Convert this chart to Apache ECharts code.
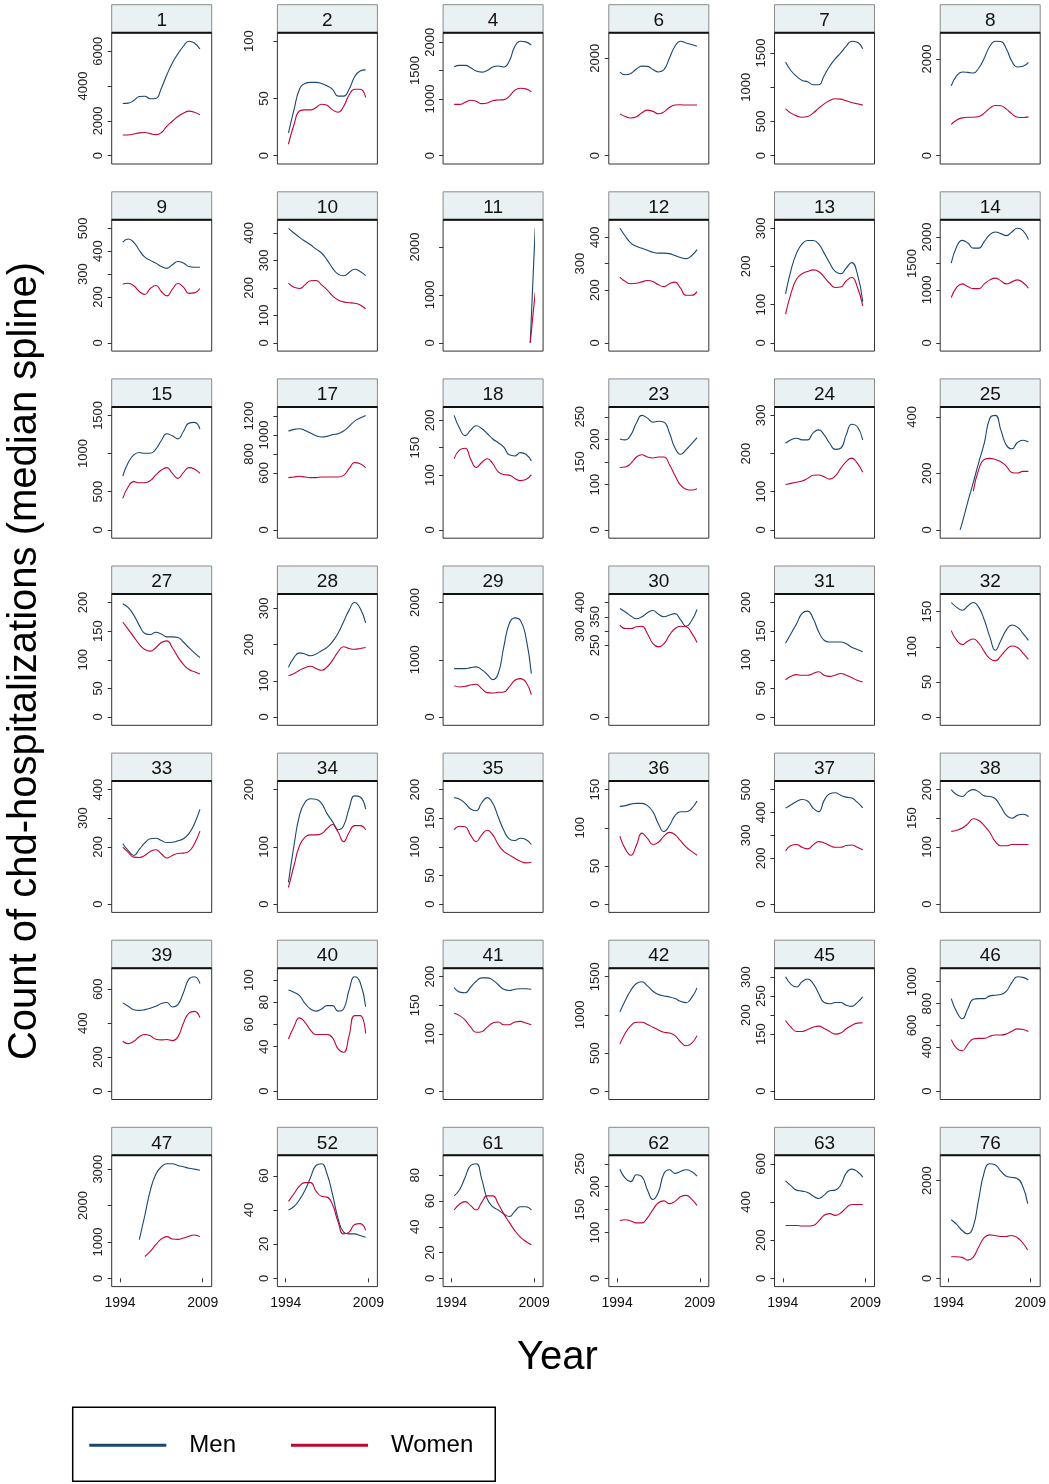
<!DOCTYPE html>
<html>
<head>
<meta charset="utf-8">
<script src="https://cdn.jsdelivr.net/npm/echarts@6/dist/echarts.min.js"></script>
<style>
  html, body { margin: 0; padding: 0; background: #fff; }
  #chart { width: 1049px; height: 1484px; }
</style>
</head>
<body>
<div id="chart"></div>
<script>
// x positions of the median-spline knots (same for every panel)
const YEARS = [1994.5, 1995.5, 1996.5, 1997.5, 1998.5, 1999.5, 2000.5, 2001.5, 2002.5, 2003.5, 2004.5, 2005.5, 2006.5, 2007.5, 2008.5];
const YEARS_11 = [2008.3, 2009.2];
const YEARS_25M = [1996.1, 1996.5, 1997.5, 1998.5, 1999.5, 2000.5, 2001.5, 2002.5, 2003.5, 2004.5, 2005.5, 2006.5, 2007.5, 2008.5];

const PANEL_IDS = ['1', '2', '4', '6', '7', '8', '9', '10', '11', '12', '13', '14', '15', '17', '18', '23', '24', '25',
  '27', '28', '29', '30', '31', '32', '33', '34', '35', '36', '37', '38', '39', '40', '41', '42', '45', '46',
  '47', '52', '61', '62', '63', '76'];

const men_1 = [3000, 3020, 3170, 3400, 3420, 3270, 3290, 3880, 4650, 5330, 5850, 6290, 6580, 6480, 6130];
const women_1 = [1190, 1190, 1250, 1310, 1330, 1270, 1210, 1330, 1700, 1980, 2250, 2440, 2560, 2500, 2350];
const men_2 = [20, 40, 58, 63, 64, 64, 63, 61, 58, 52, 52, 58, 69, 74, 75];
const women_2 = [10, 27, 39, 40, 40, 42, 45, 44, 40, 38, 43, 53, 58, 58, 51];
const men_4 = [1568, 1592, 1592, 1550, 1491, 1473, 1503, 1562, 1580, 1562, 1669, 1923, 2018, 2006, 1947];
const women_4 = [905, 905, 941, 976, 959, 917, 929, 970, 982, 988, 1047, 1154, 1189, 1178, 1124];
const men_6 = [1718, 1663, 1690, 1780, 1840, 1835, 1770, 1720, 1766, 2007, 2247, 2351, 2316, 2282, 2247];
const women_6 = [859, 804, 775, 800, 880, 935, 910, 860, 900, 990, 1040, 1045, 1040, 1040, 1040];
const men_7 = [1363, 1240, 1158, 1099, 1080, 1036, 1036, 1168, 1305, 1412, 1500, 1598, 1671, 1656, 1559];
const women_7 = [684, 621, 581, 562, 572, 621, 694, 757, 806, 831, 826, 801, 777, 757, 738];
const men_8 = [1446, 1654, 1730, 1723, 1709, 1813, 2021, 2263, 2367, 2360, 2207, 1951, 1834, 1848, 1931];
const women_8 = [650, 740, 782, 796, 796, 810, 879, 983, 1038, 1031, 962, 865, 796, 789, 803];

const men_9 = [440, 453, 439, 404, 374, 360, 348, 333, 325, 341, 355, 348, 333, 330, 330];
const women_9 = [257, 260, 249, 224, 211, 237, 250, 224, 205, 234, 259, 243, 216, 218, 237];
const men_10 = [417, 400, 384, 370, 357, 341, 327, 302, 272, 250, 244, 256, 268, 260, 245];
const women_10 = [217, 202, 198, 211, 226, 227, 211, 193, 171, 156, 149, 146, 144, 138, 124];
const men_11 = [0, 2390];
const women_11 = [0, 1050];
const men_12 = [434, 404, 378, 366, 358, 351, 343, 340, 340, 338, 331, 323, 319, 330, 353];
const women_12 = [249, 232, 224, 226, 231, 236, 232, 220, 213, 224, 230, 207, 180, 180, 194];
const men_13 = [128, 191, 235, 259, 268, 268, 259, 235, 209, 187, 181, 196, 210, 182, 108];
const women_13 = [75, 130, 167, 181, 187, 191, 187, 172, 156, 145, 146, 162, 171, 147, 97];
const men_14 = [1507, 1823, 1937, 1886, 1791, 1791, 1918, 2045, 2095, 2064, 2026, 2095, 2165, 2121, 1950];
const women_14 = [855, 1051, 1114, 1063, 1025, 1025, 1114, 1190, 1222, 1171, 1114, 1152, 1190, 1139, 1032];

const men_15 = [706, 882, 982, 1013, 1004, 1004, 1057, 1171, 1259, 1232, 1193, 1289, 1399, 1408, 1320];
const women_15 = [412, 566, 632, 618, 618, 645, 720, 785, 816, 741, 675, 750, 816, 798, 741];
const men_17 = [1039, 1060, 1067, 1049, 1021, 993, 979, 986, 1004, 1014, 1042, 1091, 1147, 1179, 1207];
const women_17 = [551, 558, 565, 558, 551, 551, 558, 558, 558, 558, 575, 646, 709, 698, 656];
const men_18 = [209, 185, 172, 182, 190, 185, 176, 166, 159, 151, 137, 135, 141, 138, 126];
const women_18 = [130, 146, 149, 129, 114, 123, 130, 121, 106, 101, 100, 94, 90, 92, 101];
const men_23 = [201, 199, 210, 236, 253, 247, 238, 240, 238, 214, 181, 167, 177, 190, 204];
const women_23 = [138, 139, 147, 161, 166, 161, 159, 161, 161, 144, 120, 99, 90, 88, 91];
const men_24 = [227, 236, 240, 236, 236, 254, 262, 249, 227, 211, 214, 249, 277, 271, 236];
const women_24 = [119, 122, 125, 128, 135, 143, 144, 139, 133, 141, 161, 179, 188, 175, 151];
const men_25 = [0, 26, 99, 168, 240, 308, 395, 405, 353, 299, 287, 309, 317, 311];
const women_25 = [null, null, null, null, 137, 215, 249, 253, 249, 241, 225, 203, 201, 207, 207];

const men_27 = [198, 191, 178, 160, 146, 144, 148, 145, 140, 140, 139, 131, 121, 112, 104];
const women_27 = [166, 153, 140, 127, 118, 115, 121, 130, 133, 121, 105, 92, 83, 79, 75];
const men_28 = [137, 164, 177, 174, 169, 174, 183, 192, 208, 231, 263, 295, 316, 300, 260];
const women_28 = [114, 120, 129, 136, 140, 134, 129, 138, 157, 180, 194, 189, 187, 189, 192];
const men_29 = [845, 845, 845, 863, 875, 828, 746, 653, 760, 1224, 1633, 1732, 1690, 1399, 758];
const women_29 = [548, 525, 536, 560, 571, 496, 426, 420, 431, 437, 525, 641, 671, 612, 391];
const men_30 = [379, 367, 353, 343, 350, 364, 372, 359, 350, 356, 361, 340, 317, 336, 376];
const women_30 = [321, 309, 309, 315, 317, 291, 256, 245, 256, 286, 309, 317, 315, 294, 260];
const men_31 = [129, 146, 163, 181, 185, 172, 149, 134, 131, 131, 131, 128, 122, 118, 114];
const women_31 = [65, 71, 74, 73, 73, 76, 79, 73, 71, 73, 76, 73, 69, 64, 61];
const men_32 = [163, 156, 152, 158, 163, 156, 138, 114, 95, 109, 124, 131, 128, 119, 109];
const women_32 = [123, 109, 103, 108, 111, 105, 93, 83, 80, 87, 96, 101, 99, 91, 82];

const men_33 = [211, 187, 170, 191, 214, 228, 230, 222, 215, 216, 221, 228, 246, 281, 331];
const women_33 = [199, 181, 164, 163, 170, 184, 190, 176, 161, 170, 177, 178, 184, 211, 255];
const men_34 = [38, 102, 155, 178, 184, 183, 176, 158, 144, 130, 137, 167, 189, 187, 166];
const women_34 = [29, 67, 102, 117, 121, 121, 123, 132, 139, 126, 109, 125, 137, 137, 130];
const men_35 = [186, 183, 176, 166, 163, 177, 186, 176, 152, 129, 114, 111, 115, 113, 104];
const women_35 = [130, 136, 135, 120, 109, 121, 129, 121, 104, 92, 86, 80, 75, 72, 73];
const men_36 = [128, 129, 131, 132, 132, 129, 121, 105, 95, 103, 116, 121, 121, 125, 135];
const women_36 = [89, 72, 64, 77, 93, 86, 78, 81, 89, 94, 91, 83, 75, 69, 64];
const men_37 = [419, 434, 448, 457, 450, 419, 404, 453, 482, 486, 475, 467, 463, 445, 420];
const women_37 = [232, 256, 260, 248, 241, 258, 273, 267, 256, 248, 248, 256, 258, 248, 237];
const men_38 = [200, 191, 188, 196, 200, 196, 189, 188, 184, 170, 155, 150, 155, 157, 153];
const women_38 = [127, 129, 133, 140, 149, 146, 137, 125, 109, 102, 102, 104, 104, 104, 104];

const men_39 = [520, 500, 480, 476, 480, 488, 500, 516, 522, 496, 510, 580, 660, 674, 634];
const women_39 = [294, 280, 294, 320, 334, 326, 306, 302, 304, 298, 320, 400, 460, 470, 434];
const men_40 = [91, 89, 86, 79, 74, 72, 74, 77, 77, 72, 74, 91, 103, 98, 76];
const women_40 = [47, 58, 66, 62, 55, 51, 51, 51, 48, 38, 35, 50, 68, 68, 52];
const men_41 = [181, 173, 172, 182, 192, 198, 198, 194, 186, 178, 176, 178, 179, 179, 178];
const women_41 = [136, 132, 124, 112, 103, 104, 112, 119, 121, 116, 116, 121, 122, 119, 116];
const men_42 = [1036, 1191, 1323, 1411, 1433, 1380, 1310, 1266, 1248, 1235, 1213, 1178, 1160, 1222, 1354];
const women_42 = [617, 763, 860, 904, 904, 873, 838, 803, 772, 763, 728, 648, 595, 626, 728];
const men_45 = [301, 281, 274, 288, 295, 283, 257, 233, 230, 233, 233, 226, 223, 233, 248];
const women_45 = [186, 168, 157, 157, 162, 168, 171, 165, 157, 150, 153, 164, 173, 179, 180];
const men_46 = [846, 723, 662, 754, 840, 846, 846, 871, 877, 883, 914, 994, 1046, 1040, 1015];
const women_46 = [471, 391, 369, 431, 477, 483, 483, 502, 514, 514, 523, 548, 569, 563, 545];

const men_47 = [null, null, null, 1061, 1726, 2418, 2861, 3064, 3147, 3147, 3101, 3064, 3027, 3000, 2972];
const women_47 = [null, null, null, null, 600, 738, 923, 1080, 1145, 1080, 1071, 1108, 1154, 1191, 1145];
const men_52 = [40, 42, 46, 51.5, 59, 66, 67, 61, 49, 35, 27, 26, 26, 25, 24];
const women_52 = [45, 49.5, 54, 56, 56, 51, 48, 47.5, 43, 33, 26, 27, 31.5, 32, 28];
const men_61 = [64, 69, 78.5, 87.6, 88.9, 77, 61.6, 55.6, 53, 50, 48, 52, 55.6, 55.6, 53];
const women_61 = [53, 57.7, 59.5, 56.4, 53, 59, 64, 64, 57.7, 50, 43.4, 37, 32, 28.6, 26];
const men_62 = [238, 218, 211, 226, 222, 193, 172, 188, 229, 237, 229, 233, 237, 233, 223];
const women_62 = [126, 128, 125, 121, 121, 132, 150, 165, 169, 163, 168, 178, 181, 173, 159];
const men_63 = [510, 484, 462, 457, 450, 431, 418, 436, 459, 462, 489, 551, 572, 560, 530];
const women_63 = [277, 277, 277, 274, 274, 277, 300, 330, 339, 330, 342, 369, 387, 387, 387];
const men_76 = [1200, 1104, 979, 910, 1048, 1600, 2152, 2345, 2324, 2207, 2097, 2069, 2048, 1910, 1531];
const women_76 = [441, 441, 428, 372, 428, 634, 828, 890, 876, 855, 855, 876, 841, 738, 579];

// y tick labels of every panel, and the ones Stata pushed outward
const Y_TICKS = [
  [0, 2000, 4000, 6000], [0, 50, 100], [0, 1000, 1500, 2000], [0, 2000], [0, 500, 1000, 1500], [0, 2000],
  [0, 200, 300, 400, 500], [0, 100, 200, 300, 400], [0, 1000, 2000], [0, 200, 300, 400], [0, 100, 200, 300], [0, 1000, 1500, 2000],
  [0, 500, 1000, 1500], [0, 600, 800, 1000, 1200], [0, 100, 150, 200], [0, 100, 150, 200, 250], [0, 100, 200, 300], [0, 200, 400],
  [0, 50, 100, 150, 200], [0, 100, 200, 300], [0, 1000, 2000], [0, 250, 300, 350, 400], [0, 50, 100, 150, 200], [0, 50, 100, 150],
  [0, 200, 300, 400], [0, 100, 200], [0, 50, 100, 150, 200], [0, 50, 100, 150], [0, 200, 300, 400, 500], [0, 100, 150, 200],
  [0, 200, 400, 600], [0, 40, 60, 80, 100], [0, 100, 150, 200], [0, 500, 1000, 1500], [0, 150, 200, 250, 300], [0, 400, 600, 800, 1000],
  [0, 1000, 2000, 3000], [0, 20, 40, 60], [0, 20, 40, 60, 80], [0, 100, 150, 200, 250], [0, 200, 400, 600], [0, 2000]
];
const Y_OUTER = [
  [4000], [100], [1500], [], [1000], [],
  [300, 500], [200, 400], [2000], [300], [200], [1500],
  [1000], [800, 1200], [150], [150, 250], [200], [400],
  [100, 200], [200], [1000, 2000], [300, 400], [100, 200], [100],
  [300], [200], [100, 200], [100], [300, 500], [150],
  [400], [60, 100], [150], [1000], [200, 300], [600, 1000],
  [2000], [40], [40, 80], [150, 250], [400], []
];
const X_TICKS = [1994, 2009];

const MEN = [men_1, men_2, men_4, men_6, men_7, men_8, men_9, men_10, men_11, men_12, men_13, men_14,
  men_15, men_17, men_18, men_23, men_24, men_25, men_27, men_28, men_29, men_30, men_31, men_32,
  men_33, men_34, men_35, men_36, men_37, men_38, men_39, men_40, men_41, men_42, men_45, men_46,
  men_47, men_52, men_61, men_62, men_63, men_76];
const WOMEN = [women_1, women_2, women_4, women_6, women_7, women_8, women_9, women_10, women_11, women_12, women_13, women_14,
  women_15, women_17, women_18, women_23, women_24, women_25, women_27, women_28, women_29, women_30, women_31, women_32,
  women_33, women_34, women_35, women_36, women_37, women_38, women_39, women_40, women_41, women_42, women_45, women_46,
  women_47, women_52, women_61, women_62, women_63, women_76];

const FONT = '"Liberation Sans", Arial, Helvetica, sans-serif';
const MEN_COLOR = '#1a476f';
const WOMEN_COLOR = '#c10534';

// panel layout (px)
const COL_X0 = 111.7, COL_STEP = 165.7;
const ROW_Y0 = 4.7, ROW_STEP = 187.1;
const FRAME_W = 100, HEAD_H = 28, PLOT_H = 131.3;
const PAD_L = 8.3, PAD_R = 9, PAD_T = 8.5, PAD_B = 8.3;

const plain = v => String(v);

const xsFor = (id, which) => {
  if (id === '11') return YEARS_11;
  if (id === '25' && which === 'men') return YEARS_25M;
  return YEARS;
};
const pairs = (xs, vals) => xs.map((x, k) => [x, vals[k]]).filter(d => d[1] != null);

const grid = [], xAxis = [], yAxis = [], series = [], graphic = [];

PANEL_IDS.forEach((id, i) => {
  const c = i % 6, r = Math.floor(i / 6);
  const fx = COL_X0 + c * COL_STEP;
  const hy = ROW_Y0 + r * ROW_STEP;
  const py = hy + HEAD_H;
  const bottomRow = r === 6;

  grid.push({
    left: fx + PAD_L, top: py + PAD_T,
    width: FRAME_W - PAD_L - PAD_R, height: PLOT_H - PAD_T - PAD_B
  });

  xAxis.push({
    type: 'value', gridIndex: i, min: 1994, max: 2009, offset: PAD_B,
    show: bottomRow,
    axisLine: {show: false},
    splitLine: {show: false},
    axisTick: {show: bottomRow, customValues: X_TICKS, length: 4, lineStyle: {color: '#333'}},
    axisLabel: {show: bottomRow, customValues: X_TICKS, formatter: plain, margin: 10, fontSize: 14, fontFamily: FONT, color: '#111'}
  });

  const vals = MEN[i].concat(WOMEN[i]).filter(v => v != null);
  const ticks = Y_TICKS[i], outer = Y_OUTER[i];
  const ymax = Math.max(ticks[ticks.length - 1], ...vals);
  const inner = ticks.filter(t => outer.indexOf(t) < 0);

  const yIndex = yAxis.length;
  yAxis.push({
    type: 'value', gridIndex: i, min: 0, max: ymax, position: 'left', offset: PAD_L,
    axisLine: {show: false},
    splitLine: {show: false},
    axisTick: {show: true, customValues: ticks, length: 4, lineStyle: {color: '#333'}},
    axisLabel: {customValues: inner, formatter: plain, rotate: 90, margin: 6.5, fontSize: 13, fontFamily: FONT, color: '#222'}
  });
  if (outer.length) {
    yAxis.push({
      type: 'value', gridIndex: i, min: 0, max: ymax, position: 'left', offset: PAD_L,
      axisLine: {show: false},
      splitLine: {show: false},
      axisTick: {show: false},
      axisLabel: {customValues: outer, formatter: plain, rotate: 90, margin: 21.5, fontSize: 13, fontFamily: FONT, color: '#222'}
    });
  }

  series.push({
    name: 'Men', type: 'line', xAxisIndex: i, yAxisIndex: yIndex,
    data: pairs(xsFor(id, 'men'), MEN[i]),
    smooth: true, showSymbol: false, clip: false, silent: true,
    itemStyle: {color: MEN_COLOR}, lineStyle: {color: MEN_COLOR, width: 1.1}
  });
  series.push({
    name: 'Women', type: 'line', xAxisIndex: i, yAxisIndex: yIndex,
    data: pairs(xsFor(id, 'women'), WOMEN[i]),
    smooth: true, showSymbol: false, clip: false, silent: true,
    itemStyle: {color: WOMEN_COLOR}, lineStyle: {color: WOMEN_COLOR, width: 1.1}
  });

  // strip header and plot frame
  graphic.push({
    type: 'rect', shape: {x: fx, y: hy, width: FRAME_W, height: HEAD_H},
    style: {fill: '#eaf1f3', stroke: '#8a8a8a', lineWidth: 1}, z: 1
  });
  graphic.push({
    type: 'text', x: fx + FRAME_W / 2, y: hy + 16,
    style: {text: id, fontSize: 19, fontFamily: FONT, fill: '#111', align: 'center', verticalAlign: 'middle'}, z: 2
  });
  graphic.push({
    type: 'rect', shape: {x: fx, y: py, width: FRAME_W, height: PLOT_H},
    style: {fill: null, stroke: '#333', lineWidth: 1}, z: 1
  });
  graphic.push({
    type: 'line', shape: {x1: fx, y1: py, x2: fx + FRAME_W, y2: py},
    style: {stroke: '#111', lineWidth: 2}, z: 2
  });
});

graphic.push({
  type: 'text', x: 25, y: 661, rotation: Math.PI / 2,
  style: {text: 'Count of chd-hospitalizations (median spline)', fontSize: 40, fontFamily: FONT, fill: '#000',
    align: 'center', verticalAlign: 'middle'}
});
graphic.push({
  type: 'text', x: 557.5, y: 1358,
  style: {text: 'Year', fontSize: 40, fontFamily: FONT, fill: '#000', align: 'center', verticalAlign: 'middle'}
});

const chart = echarts.init(document.getElementById('chart'), null, {renderer: 'canvas'});
chart.setOption({
  animation: false,
  backgroundColor: '#fff',
  grid: grid,
  xAxis: xAxis,
  yAxis: yAxis,
  series: series,
  graphic: graphic,
  legend: {
    left: 72.7, top: 1407.3,
    data: ['Men', 'Women'],
    icon: 'rect', itemWidth: 77, itemHeight: 3, itemGap: 55,
    padding: [23, 22, 21, 16.6],
    borderColor: '#000', borderWidth: 1.5,
    selectedMode: false,
    textStyle: {fontSize: 24, fontFamily: FONT, color: '#000', padding: [0, 0, 0, 18], lineHeight: 30}
  }
});
</script>
</body>
</html>
